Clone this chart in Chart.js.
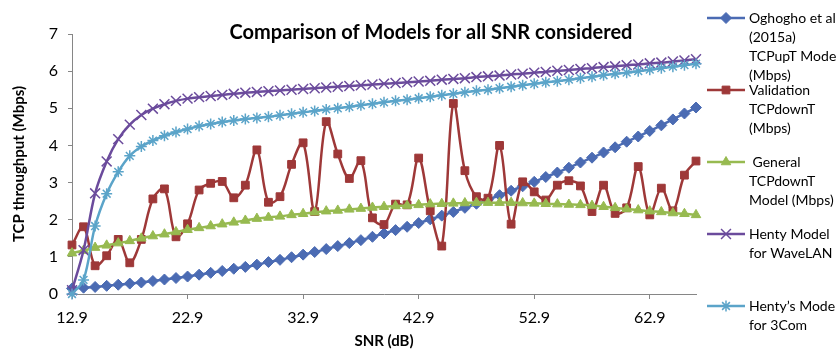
<!DOCTYPE html>
<html>
<head>
<meta charset="utf-8">
<script src="https://cdn.jsdelivr.net/npm/chart.js"></script>
<style>
  html, body { margin: 0; padding: 0; background: #fff; }
  #wrap { width: 836px; height: 355px; position: relative; }
</style>
</head>
<body>
<div id="wrap"><canvas id="snrChart"></canvas></div>
<script>
// SNR categories (dB)
const snr = [12.9, 13.9, 14.9, 15.9, 16.9, 17.9, 18.9, 19.9, 20.9, 21.9,
  22.9, 23.9, 24.9, 25.9, 26.9, 27.9, 28.9, 29.9, 30.9, 31.9,
  32.9, 33.9, 34.9, 35.9, 36.9, 37.9, 38.9, 39.9, 40.9, 41.9,
  42.9, 43.9, 44.9, 45.9, 46.9, 47.9, 48.9, 49.9, 50.9, 51.9,
  52.9, 53.9, 54.9, 55.9, 56.9, 57.9, 58.9, 59.9, 60.9, 61.9,
  62.9, 63.9, 64.9, 65.9, 66.9];

const xTickLabels = [12.9, 22.9, 32.9, 42.9, 52.9, 62.9];

// throughput values (Mbps)
const oghoghoUp = [0.15, 0.17, 0.19, 0.22, 0.25, 0.28, 0.31, 0.35, 0.39, 0.43,
  0.47, 0.52, 0.57, 0.62, 0.68, 0.73, 0.79, 0.86, 0.92, 0.99,
  1.06, 1.13, 1.21, 1.29, 1.37, 1.45, 1.54, 1.63, 1.72, 1.81,
  1.91, 2.01, 2.11, 2.21, 2.32, 2.43, 2.54, 2.66, 2.78, 2.90,
  3.02, 3.15, 3.27, 3.40, 3.54, 3.67, 3.81, 3.95, 4.10, 4.24,
  4.39, 4.54, 4.70, 4.86, 5.02];

const validationDown = [1.32, 1.81, 0.76, 1.03, 1.47, 0.84, 1.47, 2.56, 2.83, 1.54,
  1.89, 2.80, 2.98, 3.03, 2.59, 2.93, 3.88, 2.47, 2.62, 3.49,
  4.07, 2.22, 4.64, 3.77, 3.11, 3.59, 2.05, 1.87, 2.42, 2.40,
  3.66, 2.24, 1.29, 5.13, 3.32, 2.62, 2.58, 4.00, 1.88, 3.02,
  2.75, 2.53, 2.93, 3.05, 2.91, 2.22, 2.93, 2.17, 2.32, 3.43,
  2.13, 2.85, 2.24, 3.20, 3.58];

const generalDown = [1.10, 1.17, 1.25, 1.31, 1.37, 1.43, 1.50, 1.56, 1.61, 1.67,
  1.73, 1.78, 1.83, 1.88, 1.93, 1.98, 2.03, 2.06, 2.09, 2.13,
  2.16, 2.20, 2.23, 2.25, 2.28, 2.30, 2.33, 2.35, 2.37, 2.38,
  2.40, 2.42, 2.43, 2.44, 2.45, 2.46, 2.46, 2.46, 2.46, 2.45,
  2.44, 2.43, 2.42, 2.41, 2.40, 2.38, 2.35, 2.32, 2.29, 2.26,
  2.23, 2.21, 2.18, 2.16, 2.13];

const hentyWaveLAN = [0.10, 1.18, 2.71, 3.57, 4.17, 4.56, 4.82, 4.99, 5.11, 5.20,
  5.26, 5.30, 5.33, 5.36, 5.39, 5.42, 5.44, 5.46, 5.48, 5.50,
  5.52, 5.54, 5.56, 5.58, 5.60, 5.62, 5.64, 5.66, 5.68, 5.70,
  5.72, 5.74, 5.77, 5.79, 5.81, 5.84, 5.86, 5.88, 5.91, 5.93,
  5.96, 5.98, 6.01, 6.03, 6.06, 6.08, 6.11, 6.13, 6.16, 6.18,
  6.21, 6.23, 6.26, 6.29, 6.32];

const henty3Com = [0.00, 0.38, 1.83, 2.70, 3.29, 3.72, 3.97, 4.13, 4.26, 4.36,
  4.44, 4.52, 4.58, 4.63, 4.67, 4.71, 4.74, 4.77, 4.81, 4.85,
  4.89, 4.93, 4.97, 5.00, 5.04, 5.08, 5.12, 5.16, 5.20, 5.23,
  5.27, 5.31, 5.35, 5.39, 5.43, 5.47, 5.50, 5.54, 5.58, 5.62,
  5.66, 5.70, 5.73, 5.77, 5.81, 5.85, 5.89, 5.93, 5.96, 6.00,
  6.04, 6.08, 6.12, 6.16, 6.20];

// legend text, one entry per line as in the original
const legendLines = [
  ["Oghogho et al", "(2015a)", "TCPupT Model", "(Mbps)"],
  ["Validation", "TCPdownT", "(Mbps)"],
  [" General", "TCPdownT", "Model (Mbps)"],
  ["Henty Model", "for WaveLAN"],
  ["Henty\u2019s Model", "for 3Com"]
];

const FONT = "Lato, 'Open Sans', sans-serif";

const series = [
  { data: oghoghoUp, color: "#4B6BB3", style: "rectRot", r: 5.5, bw: 1 },
  { data: validationDown, color: "#9E3838", style: "rect", r: 5.5, bw: 1 },
  { data: generalDown, color: "#97BA50", style: "triangle", r: 5.5, bw: 1 },
  { data: hentyWaveLAN, color: "#6B4B9C", style: "crossRot", r: 7, bw: 1.5 },
  { data: henty3Com, color: "#5BA4C9", style: "star", r: 5.5, bw: 1.5 }
];

const datasets = series.map((s, i) => ({
  label: legendLines[i].join(" "),
  data: s.data.map((v, k) => ({ x: snr[k], y: v })),
  borderColor: s.color,
  backgroundColor: s.color,
  borderWidth: 2.5,
  tension: 0.35,
  pointStyle: s.style,
  pointRadius: s.r,
  pointBorderWidth: s.bw,
  pointBackgroundColor: s.color,
  pointBorderColor: s.color,
  clip: false,
  order: 5 - i
}));

// Excel-style side legend and title overlapping the plot top
const extrasPlugin = {
  id: "excelExtras",
  afterDraw(chart) {
    const ctx = chart.ctx;
    ctx.save();

    ctx.font = "bold 20px " + FONT;
    ctx.fillStyle = "#000";
    ctx.textAlign = "center";
    ctx.textBaseline = "middle";
    ctx.fillText("Comparison of Models for all SNR considered", 431, 33);

    ctx.font = "14px " + FONT;
    ctx.textAlign = "left";
    series.forEach((s, i) => {
      const y0 = 18 + i * 72;
      ctx.strokeStyle = s.color;
      ctx.fillStyle = s.color;
      ctx.lineWidth = 2.5;
      ctx.beginPath();
      ctx.moveTo(707, y0);
      ctx.lineTo(745, y0);
      ctx.stroke();
      ctx.lineWidth = s.bw;
      Chart.helpers.drawPoint(ctx, { pointStyle: s.style, rotation: 0, radius: s.r, borderWidth: s.bw }, 726, y0);
      ctx.fillStyle = "#000";
      legendLines[i].forEach((line, j) => {
        ctx.fillText(line, 749, y0 + j * 19);
      });
    });
    ctx.restore();
  }
};

new Chart(document.getElementById("snrChart"), {
  type: "line",
  data: { datasets },
  options: {
    responsive: true,
    maintainAspectRatio: false,
    animation: false,
    layout: { padding: { left: 0, top: 34, right: 140, bottom: 0 } },
    plugins: {
      legend: { display: false },
      title: { display: false },
      tooltip: { enabled: false }
    },
    scales: {
      x: {
        type: "linear",
        min: 12.9,
        max: 66.9,
        afterFit(scale) { scale.height = 61; },
        afterBuildTicks(scale) { scale.ticks = xTickLabels.map(v => ({ value: v })); },
        ticks: {
          autoSkip: false,
          maxRotation: 0,
          padding: 9,
          color: "#000",
          font: { family: FONT, size: 16 },
          callback: v => Number(v).toFixed(1)
        },
        grid: { drawOnChartArea: false, drawTicks: true, tickLength: 5, color: "#868686" },
        border: { color: "#868686", width: 1 },
        title: {
          display: true,
          text: "SNR (dB)",
          color: "#000",
          font: { family: FONT, size: 15, weight: "bold" },
          padding: { top: 0, bottom: 5 }
        }
      },
      y: {
        min: 0,
        max: 7,
        afterFit(scale) { scale.width = 72; },
        ticks: {
          stepSize: 1,
          padding: 10,
          color: "#000",
          font: { family: FONT, size: 16 }
        },
        grid: { drawOnChartArea: false, drawTicks: true, tickLength: 4, color: "#868686" },
        border: { color: "#868686", width: 1 },
        title: {
          display: true,
          text: "TCP throughput (Mbps)",
          color: "#000",
          font: { family: FONT, size: 15, weight: "bold" },
          padding: { top: 10, bottom: 0 }
        }
      }
    }
  },
  plugins: [extrasPlugin]
});
</script>
</body>
</html>
